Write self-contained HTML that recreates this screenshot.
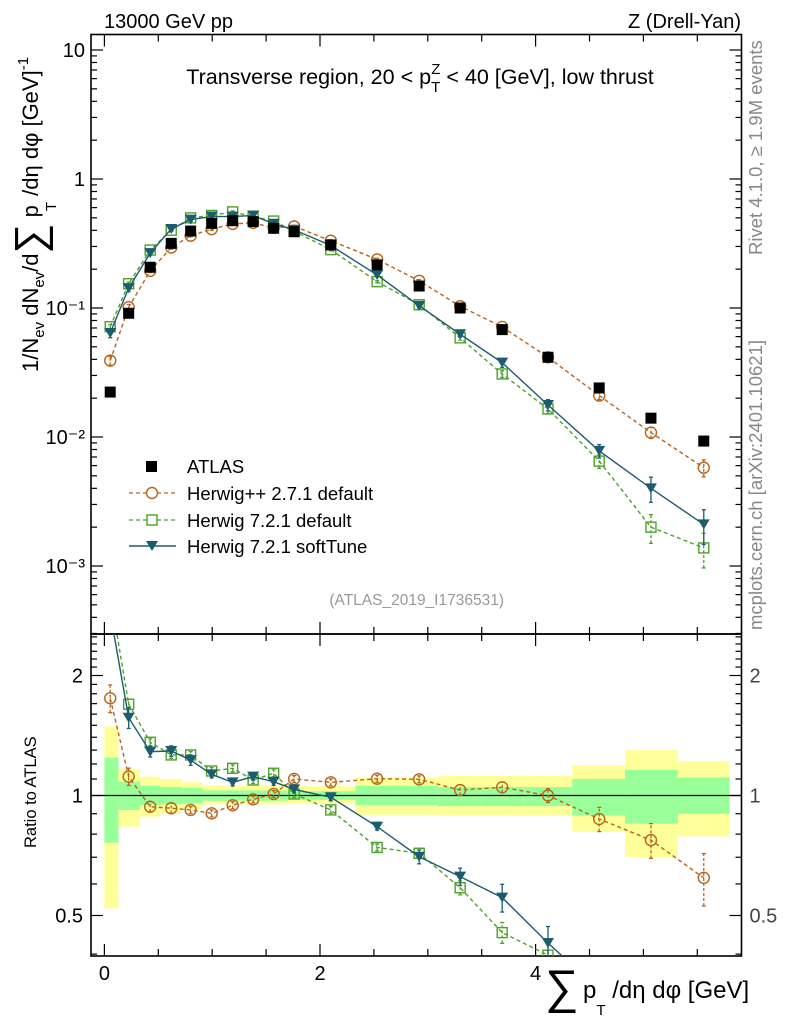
<!DOCTYPE html>
<html><head><meta charset="utf-8"><style>
html,body{margin:0;padding:0;background:#fff;overflow:hidden;width:786px;height:1024px;}
svg{display:block;font-family:"Liberation Sans",sans-serif;}
</style></head><body>
<svg id="chart" width="786" height="1024" viewBox="0 0 786 1024" xmlns="http://www.w3.org/2000/svg">
<g id="bands"></g>
<g id="grid"></g>
<g id="marks"></g>
<text x="104" y="28" font-size="20">13000 GeV pp</text>
<text x="741" y="28" font-size="20" text-anchor="end">Z (Drell-Yan)</text>
<text x="420" y="84" font-size="21.5" text-anchor="middle">Transverse region, 20 &lt; p<tspan font-size="15" dy="8">T</tspan><tspan font-size="15" dx="-9" dy="-18">Z</tspan><tspan dy="10"> &lt; 40 [GeV], low thrust</tspan></text>
<text transform="translate(762,255) rotate(-90)" font-size="18.5" fill="#888">Rivet 4.1.0, ≥ 1.9M events</text>
<text transform="translate(762,630) rotate(-90)" font-size="18.5" fill="#888">mcplots.cern.ch [arXiv:2401.10621]</text>
<text transform="translate(38,372) rotate(-90)" font-size="22">1/N<tspan font-size="15" dy="6">ev</tspan><tspan dy="-6"> dN</tspan><tspan font-size="15" dy="6">ev</tspan><tspan dy="-6">/d</tspan><tspan font-size="42" dy="6">∑</tspan><tspan dy="-6"> p</tspan><tspan font-size="15" dx="-6" dy="18">T</tspan><tspan dy="-18"> /dη dφ  [GeV]</tspan><tspan font-size="15" dy="-10">-1</tspan></text>
<text transform="translate(36,848) rotate(-90)" font-size="16.5">Ratio to ATLAS</text>
<text x="545" y="1003" font-size="47">∑</text>
<text x="583" y="998" font-size="24">p<tspan font-size="15" dy="17">T</tspan><tspan dy="-17"> /dη dφ [GeV]</tspan></text>
<text x="504" y="605" font-size="15.5" fill="#999" text-anchor="end">(ATLAS_2019_I1736531)</text>
<g font-size="18.5">
<rect x="146" y="461" width="11" height="11" fill="#000"/>
<text x="187" y="473">ATLAS</text>
<line x1="129" y1="493" x2="176" y2="493" stroke="#b8651b" stroke-width="1.3" stroke-dasharray="4,3"/>
<circle cx="152" cy="493" r="5.5" fill="#fff" stroke="#b8651b" stroke-width="1.4"/>
<text x="187" y="500">Herwig++ 2.7.1 default</text>
<line x1="129" y1="520" x2="176" y2="520" stroke="#4ea12a" stroke-width="1.3" stroke-dasharray="4,3"/>
<rect x="147" y="515" width="10" height="10" fill="#fff" stroke="#4ea12a" stroke-width="1.4"/>
<text x="187" y="527">Herwig 7.2.1 default</text>
<line x1="129" y1="546" x2="176" y2="546" stroke="#1d5c6e" stroke-width="1.4"/>
<path d="M146,541 L158,541 L152,551 Z" fill="#1d5c6e"/>
<text x="187" y="553">Herwig 7.2.1 softTune</text>
</g>
</svg>
<script>
const binEdges=[0,0.13,0.33,0.52,0.72,0.91,1.11,1.30,1.50,1.70,1.89,2.33,2.72,3.10,3.50,3.90,4.34,4.83,5.32,5.80];
const binCenters=[0.054,0.225,0.425,0.62,0.80,0.995,1.19,1.38,1.57,1.76,2.10,2.53,2.92,3.30,3.69,4.115,4.59,5.07,5.56];
const atlas=[0.0223,0.091,0.207,0.317,0.395,0.453,0.475,0.467,0.415,0.39,0.308,0.216,0.148,0.100,0.068,0.0415,0.024,0.0140,0.0093];
const yellowHi=[1.49,1.166,1.115,1.10,1.079,1.06,1.06,1.06,1.06,1.055,1.055,1.11,1.11,1.12,1.12,1.12,1.19,1.30,1.22];
const yellowLo=[0.521,0.835,0.885,0.90,0.925,0.95,0.95,0.95,0.95,0.955,0.955,0.894,0.894,0.89,0.89,0.89,0.81,0.70,0.79];
const greenHi=[1.244,1.083,1.058,1.05,1.045,1.03,1.03,1.03,1.03,1.025,1.025,1.058,1.058,1.05,1.05,1.05,1.10,1.16,1.11];
const greenLo=[0.761,0.92,0.947,0.95,0.955,0.97,0.97,0.97,0.97,0.975,0.975,0.947,0.947,0.94,0.94,0.94,0.89,0.85,0.90];
const hpp=[0.0391,0.1015,0.194,0.2945,0.3634,0.4086,0.4489,0.4567,0.4187,0.429,0.3323,0.238,0.1625,0.1032,0.0713,0.0415,0.02095,0.01082,0.00578];
const hppErr=[0.08,0.05,0.03,0.03,0.02,0.02,0.02,0.02,0.02,0.02,0.02,0.02,0.02,0.03,0.03,0.04,0.07,0.1,0.15];
const h7=[0.0716,0.1542,0.2815,0.4007,0.4993,0.5219,0.5558,0.5109,0.4719,0.3935,0.2834,0.160,0.106,0.0587,0.0308,0.0165,0.0065,0.0020,0.00138];
const h7Err=[0.04,0.03,0.02,0.02,0.02,0.02,0.02,0.02,0.02,0.02,0.02,0.02,0.03,0.04,0.06,0.08,0.12,0.25,0.3];
const soft=[0.064,0.1426,0.2666,0.4099,0.4847,0.5119,0.5125,0.5207,0.4494,0.404,0.3049,0.1804,0.1039,0.0626,0.0377,0.0177,0.0078,0.0040,0.0021];
const softErr=[0.08,0.06,0.03,0.03,0.03,0.02,0.02,0.02,0.02,0.02,0.02,0.02,0.04,0.05,0.08,0.1,0.12,0.22,0.3];
const mainTicks=[{v:10,t:"10"},{v:1,t:"1"},{v:0.1,t:"10\u207B\u00B9"},{v:0.01,t:"10\u207B\u00B2"},{v:0.001,t:"10\u207B\u00B3"}];
const ratioTicks=[{v:2,t:"2"},{v:1,t:"1"},{v:0.5,t:"0.5"}];
const xTicks=[0,2,4];

const NS="http://www.w3.org/2000/svg";
const L=91,R=741.5,MT=34.5,MB=634,RB=956;
const X=v=>104.4+v*107.8;
const Y=v=>179-129*Math.log10(v);
const RY=v=>795.5-398.6*Math.log10(v);
function mk(par,tag,a){const e=document.createElementNS(NS,tag);for(const k in a)e.setAttribute(k,a[k]);par.appendChild(e);return e;}
const gB=document.getElementById('bands'),gA=document.getElementById('grid'),gM=document.getElementById('marks');

for(let i=0;i<atlas.length;i++){
  const x0=X(binEdges[i]),x1=X(binEdges[i+1]);
  let r=mk(gB,'rect',{x:x0,y:RY(yellowHi[i]),width:x1-x0,height:RY(yellowLo[i])-RY(yellowHi[i]),fill:'#ffff99'});
  
  
  r=mk(gB,'rect',{x:x0,y:RY(greenHi[i]),width:x1-x0,height:RY(greenLo[i])-RY(greenHi[i]),fill:'#99ff99'});
  
  
}
[[MT,MB],[MB,RB]].forEach(([t,b],k)=>{
  const f=mk(gA,'rect',{x:L,y:t,width:R-L,height:b-t,fill:'none',stroke:'#000','stroke-width':1.6});
  
  
  for(let v=0;v<=5.5;v+=0.5){const x=X(v),len=(Math.abs(v-Math.round(v/2)*2)<1e-6)?12:7;
    mk(gA,'line',{x1:x,x2:x,y1:b,y2:b-len,stroke:'#000','stroke-width':1.2});
    mk(gA,'line',{x1:x,x2:x,y1:t,y2:t+len,stroke:'#000','stroke-width':1.2});}
});
mk(gA,'line',{x1:L,x2:R,y1:RY(1),y2:RY(1),stroke:'#000','stroke-width':1.3});
for(let e=-4;e<=1;e++){for(let m=1;m<10;m++){const v=m*Math.pow(10,e);const y=Y(v);if(y<MT||y>MB)continue;const len=m==1?12:6;
  mk(gA,'line',{x1:L,x2:L+len,y1:y,y2:y,stroke:'#000','stroke-width':1.2});
  mk(gA,'line',{x1:R,x2:R-len,y1:y,y2:y,stroke:'#000','stroke-width':1.2});}}
mainTicks.forEach(tk=>{const t=mk(gA,'text',{x:L-6,y:Y(tk.v)+7,'font-size':20,'text-anchor':'end'});t.textContent=tk.t;
  
  });
for(let v=0.4;v<=2.55;v+=0.1){const y=RY(v);if(y<MB||y>RB)continue;const maj=[0.5,1,2].some(q=>Math.abs(q-v)<1e-6);const len=maj?12:6;
  mk(gA,'line',{x1:L,x2:L+len,y1:y,y2:y,stroke:'#000','stroke-width':1.2});
  mk(gA,'line',{x1:R,x2:R-len,y1:y,y2:y,stroke:'#000','stroke-width':1.2});}
ratioTicks.forEach(tk=>{let t=mk(gA,'text',{x:L-8,y:RY(tk.v)+7,'font-size':20,'text-anchor':'end'});t.textContent=tk.t;
  
  
  t=mk(gA,'text',{x:R+8,y:RY(tk.v)+7,'font-size':20,fill:'#444'});t.textContent=tk.t;
  
  });
xTicks.forEach(v=>{const t=mk(gA,'text',{x:X(v),y:980,'font-size':20,'text-anchor':'middle'});t.textContent=v;
  
  });

const defs=mk(document.getElementById('chart'),'defs',{});
const c1=mk(defs,'clipPath',{id:'cm'});mk(c1,'rect',{x:L,y:MT,width:R-L,height:MB-MT});
const c2=mk(defs,'clipPath',{id:'cr'});mk(c2,'rect',{x:L,y:MB,width:R-L,height:RB-MB});
const gMain=mk(gM,'g',{'clip-path':'url(#cm)'}),gRat=mk(gM,'g',{'clip-path':'url(#cr)'});

const series=[
 {name:'herwigpp',vals:hpp,err:hppErr,col:'#b8651b',dash:'4,3',m:'circle'},
 {name:'herwig7-default',vals:h7,err:h7Err,col:'#4ea12a',dash:'4,3',m:'square'},
 {name:'herwig7-softtune',vals:soft,err:softErr,col:'#1d5c6e',dash:null,m:'tri'}];
function marker(g,m,x,y,col){
  if(m=='circle')return mk(g,'circle',{cx:x,cy:y,r:5.5,fill:'none',stroke:col,'stroke-width':1.4});
  if(m=='square')return mk(g,'rect',{x:x-5,y:y-5,width:10,height:10,fill:'none',stroke:col,'stroke-width':1.4});
  return mk(g,'path',{d:`M${x-6},${y-5} L${x+6},${y-5} L${x},${y+5} Z`,fill:col});
}
series.forEach(s=>{
  [[gMain,i=>Y(s.vals[i]),i=>s.vals[i]],[gRat,i=>RY(s.vals[i]/atlas[i]),i=>s.vals[i]/atlas[i]]].forEach(([g,fy,fv],k)=>{
    const pts=s.vals.map((v,i)=>X(binCenters[i])+','+fy(i)).join(' ');
    const pl=mk(g,'polyline',{points:pts,fill:'none',stroke:s.col,'stroke-width':1.4});
    if(s.dash)pl.setAttribute('stroke-dasharray',s.dash);
    
    
    s.vals.forEach((v,i)=>{const x=X(binCenters[i]);const val=fv(i);
      const lo=k?RY(val*(1-s.err[i])):Y(val*(1-s.err[i])),hi=k?RY(val*(1+s.err[i])):Y(val*(1+s.err[i]));
      const el=mk(g,'line',{x1:x,x2:x,y1:lo,y2:hi,stroke:s.col,'stroke-width':1.3});
      if(s.dash)el.setAttribute('stroke-dasharray','3,2');
      mk(g,'line',{x1:x-2,x2:x+2,y1:lo,y2:lo,stroke:s.col,'stroke-width':1.3});
      mk(g,'line',{x1:x-2,x2:x+2,y1:hi,y2:hi,stroke:s.col,'stroke-width':1.3});
      const mm=marker(g,s.m,x,fy(i),s.col);
      
      
    });
  });
});
atlas.forEach((v,i)=>{const r=mk(gMain,'rect',{x:X(binCenters[i])-5.5,y:Y(v)-5.5,width:11,height:11,fill:'#000'});
  
  });
</script>
</body></html>
